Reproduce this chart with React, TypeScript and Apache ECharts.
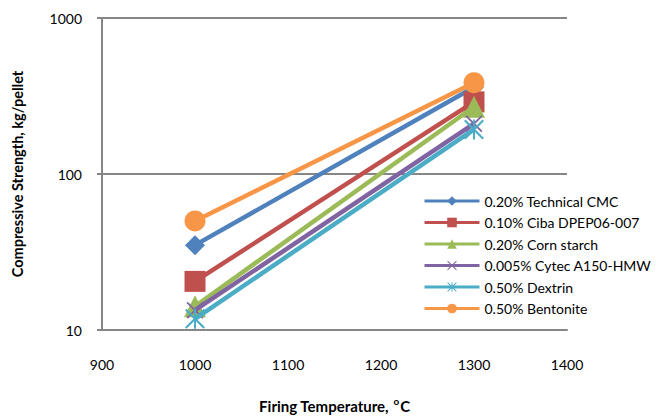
import React, { useEffect, useRef } from "react";
import * as echarts from "echarts";

const temperatures = [1000, 1300];
const seriesNames = [
  "0.20% Technical CMC",
  "0.10% Ciba DPEP06-007",
  "0.20% Corn starch",
  "0.005% Cytec A150-HMW",
  "0.50% Dextrin",
  "0.50% Bentonite",
];
const cmc = [35, 360];
const ciba = [20.5, 290];
const corn = [14.2, 270];
const cytec = [13.4, 210];
const dextrin = [11.8, 193];
const bentonite = [50, 385];
const yTicks = [10, 100, 1000];
const xTicks = [900, 1000, 1100, 1200, 1300, 1400];

const colors = ["#4F81BD", "#C0504D", "#9BBB59", "#8064A2", "#4BACC6", "#F79646"];
const xPath =
  "path://M0,1.5 L1.5,0 L10,8.5 L18.5,0 L20,1.5 L11.5,10 L20,18.5 L18.5,20 L10,11.5 L1.5,20 L0,18.5 L8.5,10 Z";
const starPath =
  "path://M0,1.5 L1.5,0 L10,8.5 L18.5,0 L20,1.5 L11.5,10 L20,18.5 L18.5,20 L10,11.5 L1.5,20 L0,18.5 L8.5,10 Z M9,0 L11,0 L11,20 L9,20 Z";

const FONT = "Lato, 'Liberation Sans', sans-serif";

export default function App() {
  const ref = useRef<HTMLDivElement>(null);
  useEffect(() => {
    if (!ref.current) return;
    const chart = echarts.init(ref.current, undefined, { renderer: "svg" });
    const values = [cmc, ciba, corn, cytec, dextrin, bentonite];
    const symbols = ["diamond", "rect", "triangle", xPath, starPath, "circle"];
    const sizes = [20, 21, 22, 17, 20, 21];
    chart.setOption({
      animation: false,
      textStyle: { fontFamily: FONT },
      grid: { left: 102, right: 89, top: 18, bottom: 85 },
      legend: {
        orient: "vertical",
        left: 418,
        top: 189,
        itemWidth: 55,
        itemHeight: 12,
        itemGap: 7.5,
        textStyle: { fontSize: 14, color: "#000", fontFamily: FONT, padding: [0, 0, 0, 0] },
        lineStyle: { width: 3 },
        data: seriesNames,
      },
      xAxis: {
        type: "value",
        min: xTicks[0],
        max: xTicks[xTicks.length - 1],
        interval: 100,
        axisLine: { lineStyle: { color: "#868686", width: 2 } },
        axisTick: { show: false },
        splitLine: { show: false },
        axisLabel: { fontSize: 14, color: "#000", margin: 27, fontFamily: FONT, formatter: (v: number) => String(v) },
        name: "{a|Firing Temperature, }{sup|o}{a|C}",
        nameLocation: "middle",
        nameGap: 66,
        nameTextStyle: {
          rich: {
            a: { fontSize: 15, fontWeight: "bold", color: "#000", fontFamily: FONT },
            sup: { fontSize: 10, fontWeight: "bold", color: "#000", fontFamily: FONT, verticalAlign: "top", padding: [0, 1, 9, 1] },
          },
        },
      },
      yAxis: {
        type: "log",
        logBase: 10,
        min: yTicks[0],
        max: yTicks[yTicks.length - 1],
        axisLine: { show: true, lineStyle: { color: "#868686", width: 2 } },
        axisTick: { show: true, inside: false, length: 5, lineStyle: { color: "#868686", width: 2 } },
        splitLine: { show: true, lineStyle: { color: "#868686", width: 2 } },
        axisLabel: { fontSize: 14, color: "#000", margin: 20, fontFamily: FONT, formatter: (v: number) => String(v) },
        name: "Compressive Strength, kg/pellet",
        nameLocation: "middle",
        nameGap: 77,
        nameTextStyle: { fontSize: 14.5, fontWeight: "bold", color: "#000", fontFamily: FONT },
      },
      series: seriesNames.map((name, i) => ({
        name,
        type: "line",
        data: temperatures.map((t, j) => [t, values[i][j]]),
        symbol: symbols[i],
        symbolSize: sizes[i],
        showAllSymbol: true,
        lineStyle: { color: colors[i], width: 4.5 },
        itemStyle: { color: colors[i] },
        z: 2 + i,
      })),
    });
    return () => chart.dispose();
  }, []);
  return (
    <div
      ref={ref}
      style={{ position: "fixed", left: 0, top: 0, width: 656, height: 418, background: "#fff" }}
    />
  );
}
